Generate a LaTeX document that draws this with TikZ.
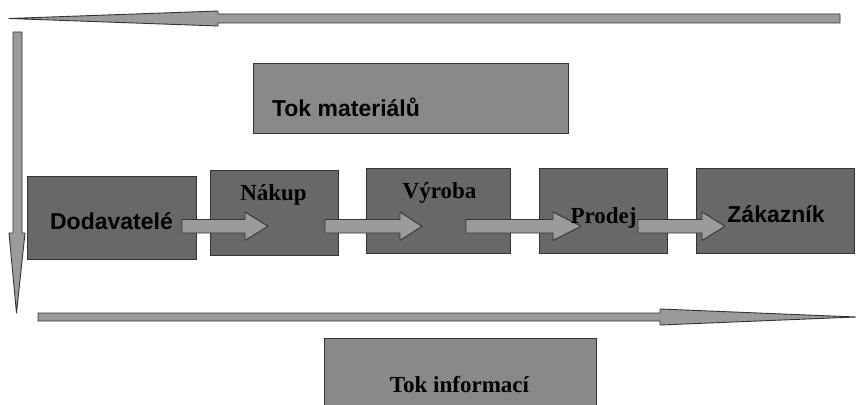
\documentclass[tikz,border=0pt]{standalone}
\usepackage{fontspec}
\setmainfont{Liberation Serif}
\setsansfont{Liberation Sans}
\definecolor{stagegray}{HTML}{686868}
\definecolor{flowgray}{HTML}{898989}
\definecolor{arrowgray}{HTML}{9B9B9B}
\definecolor{edgegray}{HTML}{333333}
% block arrow between two stages: start x, head start x, tip x
\newcommand\stagearrow[3]{%
  \draw[blockarrow] (#1,219.5) -- (#2,219.5) -- (#2,212) -- (#3,226.25)
    -- (#2,240.5) -- (#2,233) -- (#1,233) -- cycle;}
\begin{document}
\begin{tikzpicture}[x=1pt,y=-1pt,
  stage/.style={draw=edgegray, line width=1.1pt, fill=stagegray,
    inner sep=0pt, anchor=north west},
  flowbox/.style={draw=edgegray, line width=1.1pt, fill=flowgray,
    inner sep=0pt, anchor=north west},
  blockarrow/.style={draw=edgegray, line width=0.9pt, fill=arrowgray,
    line join=round},
  longarrow/.style={draw=edgegray, line width=0.9pt, fill=arrowgray,
    line join=round},
  sanslabel/.style={font=\sffamily\bfseries\fontsize{23}{27}\selectfont,
    inner sep=0pt, anchor=base},
  seriflabel/.style={font=\rmfamily\bfseries\fontsize{23}{27}\selectfont,
    inner sep=0pt, anchor=base}]
\useasboundingbox[fill=white] (0,0) rectangle (856,404);

% information flow (top, leftwards) and its turn downwards
\draw[longarrow] (840,14) -- (218,14) -- (218,11) -- (9,18.5) -- (218,26)
  -- (218,23) -- (840,23) -- cycle;
\draw[longarrow] (13,32) -- (22,32) -- (22,233) -- (25,233) -- (16.5,313)
  -- (9,233) -- (13,233) -- cycle;
% material flow (bottom, rightwards)
\draw[longarrow] (38,313) -- (660,313) -- (660,309) -- (856,317) -- (660,325)
  -- (660,321) -- (38,321) -- cycle;

% captions of the two flows
\node[flowbox, minimum width=315pt, minimum height=70pt] (matbox) at (253,63) {};
\node[sanslabel] (mattext) at (346,116) {Tok materiálů};
\node[flowbox, minimum width=272pt, minimum height=70pt] (infbox) at (324,338) {};
\node[seriflabel] (inftext) at (459.5,392) {Tok informací};

% supply chain stages
\node[stage, minimum width=169pt, minimum height=83pt] (dod) at (27,176) {};
\node[stage, minimum width=128pt, minimum height=85pt] (nak) at (210,170) {};
\node[stage, minimum width=144pt, minimum height=85pt] (vyr) at (366,168) {};
\node[stage, minimum width=128pt, minimum height=85pt] (pro) at (539,168) {};
\node[stage, minimum width=158pt, minimum height=85pt] (zak) at (696,168) {};

% arrows between the stages
\stagearrow{182}{245}{268}
\stagearrow{325}{400}{422}
\stagearrow{466}{553}{581}
\stagearrow{638}{702}{725}

% stage names
\node[sanslabel] (dodtext) at (111.5,229) {Dodavatelé};
\node[seriflabel] (naktext) at (273.5,200) {Nákup};
\node[seriflabel] (vyrtext) at (439.5,198) {Výroba};
\node[seriflabel] (protext) at (603.5,223) {Prodej};
\node[sanslabel] (zaktext) at (776,222) {Zákazník};
\end{tikzpicture}
\end{document}
